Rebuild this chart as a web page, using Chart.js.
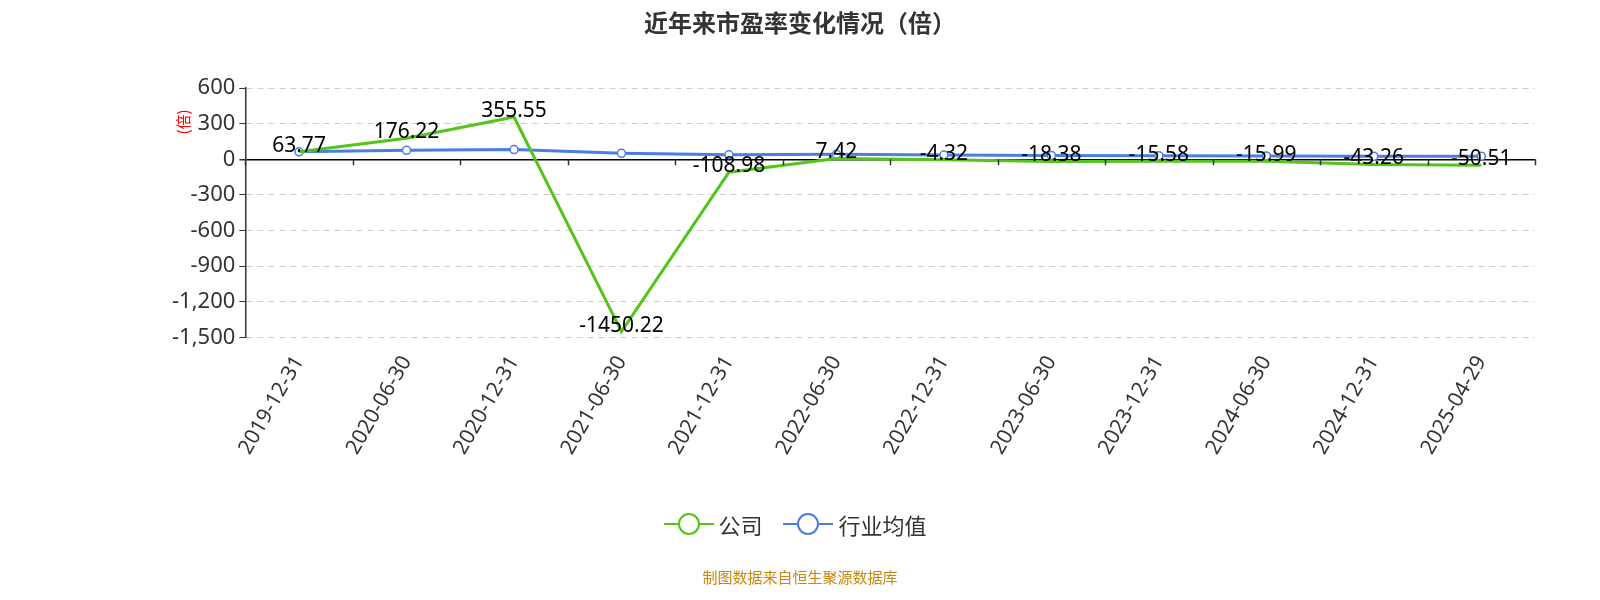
<!DOCTYPE html>
<html><head><meta charset="utf-8">
<script src="https://cdn.jsdelivr.net/npm/chart.js@4"></script>
<style>
body{margin:0;background:#fff;font-family:"Noto Sans CJK SC","Noto Sans",sans-serif;}
#wrap{position:relative;width:1600px;height:600px;}
#title{position:absolute;top:4px;left:0;width:1600px;text-align:center;font-size:24px;font-weight:bold;color:#333;}
#legend{position:absolute;top:508px;left:0;width:1590px;text-align:center;font-size:22px;color:#333;}
#legend span{display:inline-flex;align-items:center;margin:0 8px;}
#src{position:absolute;top:566px;width:1600px;text-align:center;font-size:15px;color:#c9880f;}
</style></head><body>
<div id="wrap"><canvas id="c" width="1600" height="600"></canvas>
<div id="title">近年来市盈率变化情况（倍）</div>
<div id="legend">
<span><svg width="50" height="30"><line x1="0" y1="15" x2="50" y2="15" stroke="#52c41a" stroke-width="2"/><circle cx="25" cy="15" r="10" fill="#fff" stroke="#52c41a" stroke-width="2"/></svg>&nbsp;公司</span>
<span><svg width="50" height="30"><line x1="0" y1="15" x2="50" y2="15" stroke="#4a7fe0" stroke-width="2"/><circle cx="25" cy="15" r="10" fill="#fff" stroke="#4a7fe0" stroke-width="2"/></svg>&nbsp;行业均值</span>
</div>
<div id="src">制图数据来自恒生聚源数据库</div>
</div>
<script>
const categories=["2019-12-31","2020-06-30","2020-12-31","2021-06-30","2021-12-31","2022-06-30","2022-12-31","2023-06-30","2023-12-31","2024-06-30","2024-12-31","2025-04-29"];
const company=[63.77,176.22,355.55,-1450.22,-108.98,7.42,-4.32,-18.38,-15.58,-15.99,-43.26,-50.51];
const industry=[63,75,82,50,38,42,36,32,30,28,26,26];
const yTicks=[600,300,0,-300,-600,-900,-1200,-1500];

const labelPlugin={id:'lbl',afterDatasetsDraw(ch){
 const ctx=ch.ctx,meta=ch.getDatasetMeta(0);
 ctx.save();ctx.font='21px "Noto Sans","DejaVu Sans",sans-serif';ctx.fillStyle='#000';ctx.textAlign='center';ctx.textBaseline='middle';
 meta.data.forEach((p,i)=>ctx.fillText(company[i].toFixed(2),p.x,p.y-6));
 const x=ch.scales.x,y=ch.scales.y,y0=y.getPixelForValue(0);
 ctx.strokeStyle='#333';ctx.lineWidth=1.5;
 for(let i=0;i<=categories.length;i++){const px=Math.round(x.left+i*(x.right-x.left)/categories.length)+0.5;ctx.beginPath();ctx.moveTo(px,y0);ctx.lineTo(px,y0+6);ctx.stroke();}
 ctx.translate(183,122);ctx.rotate(-Math.PI/2);ctx.fillStyle='#f00';ctx.font='15px "Noto Sans CJK SC"';ctx.fillText('(倍)',0,0);
 ctx.restore();
}};

new Chart(document.getElementById('c'),{
 type:'line',
 data:{labels:categories,datasets:[
  {label:'公司',data:company,borderColor:'#52c41a',borderWidth:3,pointRadius:0,tension:0},
  {label:'行业均值',data:industry,borderColor:'#4a7fe0',borderWidth:3,pointRadius:4,pointBackgroundColor:'#fff',pointBorderColor:'#4a7fe0',pointBorderWidth:1.5,tension:0}
 ]},
 options:{responsive:false,animation:false,
  layout:{padding:{left:168,right:65,top:88,bottom:135}},
  plugins:{legend:{display:false},tooltip:{enabled:false},title:{display:false}},
  scales:{
   x:{offset:true,grid:{display:false},border:{display:false},
    ticks:{color:'#333',font:{size:21,family:'"Noto Sans","DejaVu Sans",sans-serif'},maxRotation:60,minRotation:60,padding:6}},
   y:{min:-1500,max:600,afterBuildTicks(s){s.ticks=yTicks.map(v=>({value:v}));},
    grid:{color:c=>c.tick&&c.tick.value===0?'#000':'#ccc',lineWidth:c=>c.tick&&c.tick.value===0?1.5:1,tickColor:'#333',tickLength:6},
    border:{display:true,color:'#333',width:1.5,dash:c=>c.tick&&c.tick.value===0?[]:[6,5]},
    ticks:{color:'#333',font:{size:22,family:'"Noto Sans","DejaVu Sans",sans-serif'},padding:4,callback:v=>v.toLocaleString('en-US')}}
  }}
 ,plugins:[labelPlugin]});
</script></body></html>
